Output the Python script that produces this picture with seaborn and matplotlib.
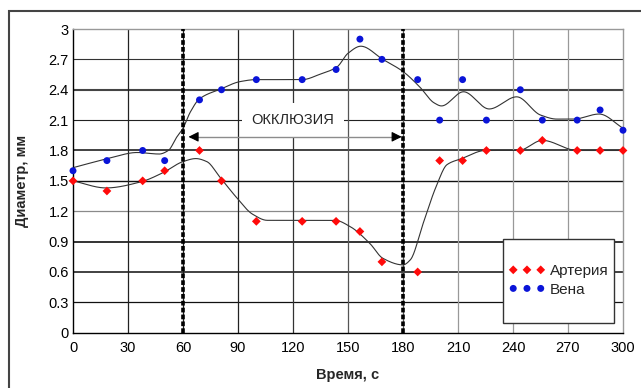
import numpy as np
import pandas as pd
import matplotlib
matplotlib.use("Agg")
import matplotlib.pyplot as plt
import seaborn as sns
from matplotlib.patches import Rectangle

# ---------------- data ----------------
time_s = [0, 18.5, 38, 50, 69, 81, 100, 125, 143.5, 156.5, 168.5, 188,
          200, 212.5, 225.5, 244, 256, 275, 287.5, 300]
artery = [1.5, 1.4, 1.5, 1.6, 1.8, 1.5, 1.1, 1.1, 1.1, 1.0, 0.7, 0.6,
          1.7, 1.7, 1.8, 1.8, 1.9, 1.8, 1.8, 1.8]
vein = [1.6, 1.7, 1.8, 1.7, 2.3, 2.4, 2.5, 2.5, 2.6, 2.9, 2.7, 2.5,
        2.1, 2.5, 2.1, 2.4, 2.1, 2.1, 2.2, 2.0]

# smoothed trend lines (knots)
artery_fit_t = [0, 18, 37, 49, 60, 67, 73, 80, 89, 98, 106, 143, 151, 162,
                169, 180, 184, 191, 198, 204, 212, 225, 243, 256, 275, 300]
artery_fit = [1.50, 1.43, 1.49, 1.58, 1.69, 1.72, 1.69, 1.54, 1.34, 1.17,
              1.11, 1.11, 1.05, 0.88, 0.735, 0.67, 0.72, 1.08, 1.44, 1.66,
              1.72, 1.80, 1.80, 1.90, 1.80, 1.80]
vein_fit_t = [0, 19, 35, 47, 52, 56.5, 60, 64, 69, 81, 91, 100, 125, 135,
              144, 150, 157, 169, 180, 189, 197, 201, 213, 227, 242, 255,
              264, 273, 287, 300]
vein_fit = [1.63, 1.72, 1.78, 1.765, 1.80, 1.93, 2.02, 2.18, 2.31, 2.41,
            2.48, 2.50, 2.50, 2.555, 2.625, 2.76, 2.83, 2.70, 2.58, 2.43,
            2.27, 2.24, 2.38, 2.21, 2.33, 2.15, 2.11, 2.11, 2.16, 2.02]

occlusion_start, occlusion_end = 60, 180
x_ticks = [0, 30, 60, 90, 120, 150, 180, 210, 240, 270, 300]
y_ticks = [0, 0.3, 0.6, 0.9, 1.2, 1.5, 1.8, 2.1, 2.4, 2.7, 3.0]
y_tick_labels = ["0", "0.3", "0.6", "0.9", "1.2", "1.5", "1.8", "2.1",
                 "2.4", "2.7", "3"]
series_names = ["Артерия", "Вена"]
occlusion_label = "ОККЛЮЗИЯ"
x_label = "Время, с"
y_label = "Диаметр, мм"


def pchip(x, y, xn):
    x = np.asarray(x, float)
    y = np.asarray(y, float)
    h = np.diff(x)
    d = np.diff(y) / h
    n = len(x)
    m = np.zeros(n)
    for k in range(1, n - 1):
        if d[k - 1] * d[k] <= 0:
            m[k] = 0.0
        else:
            w1 = 2 * h[k] + h[k - 1]
            w2 = h[k] + 2 * h[k - 1]
            m[k] = (w1 + w2) / (w1 / d[k - 1] + w2 / d[k])
    m[0] = d[0]
    m[-1] = d[-1]
    idx = np.clip(np.searchsorted(x, xn) - 1, 0, n - 2)
    t = (xn - x[idx]) / h[idx]
    h00 = 2 * t**3 - 3 * t**2 + 1
    h10 = t**3 - 2 * t**2 + t
    h01 = -2 * t**3 + 3 * t**2
    h11 = t**3 - t**2
    return (h00 * y[idx] + h10 * h[idx] * m[idx] + h01 * y[idx + 1]
            + h11 * h[idx] * m[idx + 1])


sns.set_style("white")
plt.rcParams["font.family"] = ["Liberation Sans", "DejaVu Sans"]

fig = plt.figure(figsize=(6.41, 3.88), dpi=100)
ax = fig.add_axes([73 / 641, 1 - 332.7 / 388, 550 / 641, 303.7 / 388])

# grid lines
h_style = {0.3: ("#111111", 0.9), 0.6: ("#333333", 1.3), 0.9: ("#111111", 1.2),
           1.2: ("#8a8a8a", 0.9), 1.5: ("#111111", 1.0), 1.8: ("#333333", 1.3),
           2.1: ("#222222", 0.8), 2.4: ("#444444", 1.5), 2.7: ("#333333", 0.8)}
for yv in y_ticks[1:-1]:
    c, lw = h_style[yv]
    ax.axhline(yv, color=c, lw=lw, zorder=0.5)
v_style = {30: "#222222", 60: "#222222", 90: "#222222", 120: "#333333",
           150: "#555555", 180: "#555555", 210: "#999999", 240: "#999999",
           270: "#999999"}
for xv in x_ticks[1:-1]:
    ax.axvline(xv, color=v_style[xv], lw=0.9, zorder=0.5)

# occlusion markers
for xv in (occlusion_start, occlusion_end):
    ax.axvline(xv, color="black", lw=2.6, dashes=(1.3, 0.6), zorder=3)

# trend lines
tt = np.linspace(0, 300, 1201)
sns.lineplot(x=tt, y=pchip(vein_fit_t, vein_fit, tt), color="#333333",
             lw=0.8, ax=ax, zorder=2, legend=False)
sns.lineplot(x=tt, y=pchip(artery_fit_t, artery_fit, tt), color="#333333",
             lw=0.8, ax=ax, zorder=2, legend=False)

# points
df = pd.DataFrame({"t": time_s * 2, "d": artery + vein,
                   "s": [series_names[0]] * len(time_s) + [series_names[1]] * len(time_s)})
sns.scatterplot(data=df[df.s == series_names[0]], x="t", y="d", marker="D",
                s=20, color="#ff0a0a", edgecolor="none", ax=ax, zorder=4,
                label=series_names[0], clip_on=False)
sns.scatterplot(data=df[df.s == series_names[1]], x="t", y="d", marker="o",
                s=25, color="#0a14d8", edgecolor="none", ax=ax, zorder=4,
                label=series_names[1], clip_on=False)

# occlusion annotation
ax.text(120, 2.1, occlusion_label, ha="center", va="center", fontsize=10.5,
        bbox=dict(facecolor="white", edgecolor="none", pad=7), zorder=1)
ya = 1.935
ax.plot([64, 178], [ya, ya], color="#8c8c8c", lw=1.0, zorder=2.5)
for tip, tail in ((63, 68), (179.3, 174.3)):
    ax.annotate("", xy=(tip, ya), xytext=(tail, ya),
                arrowprops=dict(arrowstyle="-|>,head_length=0.6,head_width=0.3",
                                color="black", lw=0.8, shrinkA=0, shrinkB=0,
                                mutation_scale=10), zorder=2.6)

ax.set_xlim(0, 300)
ax.set_ylim(0, 3)
ax.set_xticks(x_ticks)
ax.set_xticklabels([str(v) for v in x_ticks])
ax.set_yticks(y_ticks)
ax.set_yticklabels(y_tick_labels)
ax.tick_params(length=0, labelsize=10.5, colors="black")
ax.tick_params(axis="x", pad=6)
ax.tick_params(axis="y", pad=3)
ax.set_xlabel(x_label, fontsize=10.5, fontweight="bold")
ax.set_ylabel(y_label, fontsize=10.5, fontweight="bold")
ax.xaxis.set_label_coords(0.5, -0.115)
ax.yaxis.set_label_coords(-0.08, 0.5)

for side in ("left", "bottom"):
    ax.spines[side].set_color("black")
    ax.spines[side].set_linewidth(1.0)
for side in ("top", "right"):
    ax.spines[side].set_color("#999999")
    ax.spines[side].set_linewidth(1.0)

# legend
ax.add_patch(Rectangle((0.782, 0.032), 0.202, 0.277, transform=ax.transAxes,
                       facecolor="white", edgecolor="#333333", lw=1.0,
                       zorder=5))
leg = ax.legend(loc="center", bbox_to_anchor=(0.883, 0.172), frameon=False,
                scatterpoints=3, scatteryoffsets=[0.5], fontsize=11,
                handletextpad=0.3, labelspacing=0.3, handlelength=2.4,
                borderaxespad=0)
leg.set_zorder(6)

# outer frame of the figure
fig.add_artist(Rectangle((9 / 641, -0.1), 1.2, 1.1 - 11 / 388,
                         transform=fig.transFigure, fill=False,
                         edgecolor="#444444", lw=1.5))

fig.savefig("out.png", dpi=100)
